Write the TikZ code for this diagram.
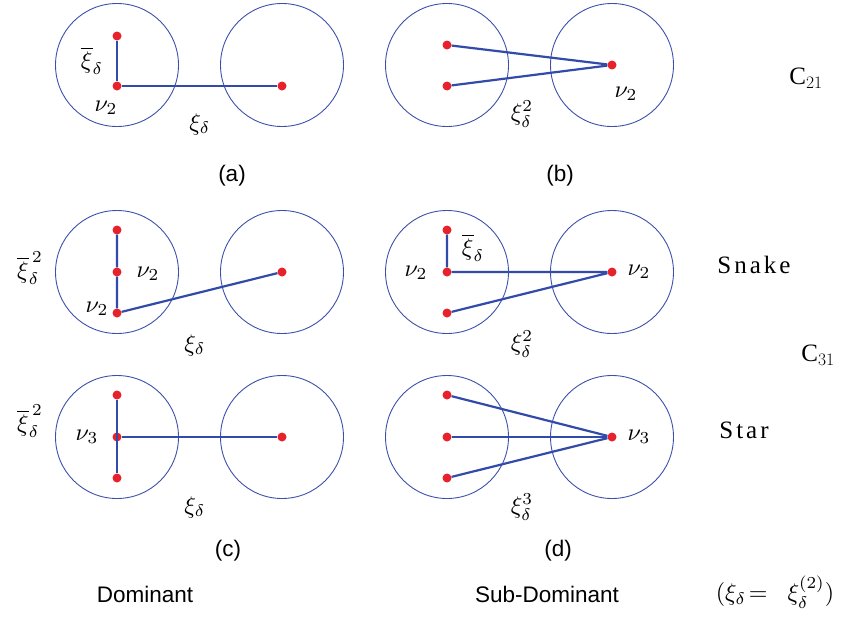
\documentclass[tikz,border=0pt]{standalone}
\usepackage{fontspec}
\newfontfamily\sff{Liberation Sans}
\newfontfamily\spaced[LetterSpace=12]{Liberation Serif}
\newcommand{\ml}[1]{\scalebox{2.4}{$#1$}}
\definecolor{ringblue}{RGB}{60,80,170}
\definecolor{linkblue}{RGB}{50,75,170}
\definecolor{dotred}{RGB}{230,35,45}
\begin{document}
\begin{tikzpicture}[x=1pt,y=-1pt,
  ring/.style={circle,draw=ringblue,line width=0.9pt,minimum size=123pt,inner sep=0pt},
  dot/.style={circle,fill=dotred,minimum size=9pt,inner sep=0pt},
  link/.style={draw=linkblue,line width=2.2pt},
  mlab/.style={inner sep=0pt},
  slab/.style={inner sep=0pt,font=\sff\fontsize{22.5}{26}\selectfont},
  tlab/.style={inner sep=0pt,font=\spaced\fontsize{25}{29}\selectfont}]
\useasboundingbox (0,0) rectangle (848,616);
% ---------- (a)
\node[ring] (ra1) at (117,65) {};
\node[ring] (ra2) at (282,65) {};
\node[dot] (a1) at (117,36) {};
\node[dot] (a2) at (117,86) {};
\node[dot] (a3) at (282,86) {};
\draw[link] (a1) -- (a2) -- (a3);
\node[mlab] (la1) at (92,61) {\ml{\overline{\xi}_\delta}};
\node[mlab] (la2) at (106,108) {\ml{\nu_2}};
\node[mlab] (la3) at (200,124) {\ml{\xi_\delta}};
\node[slab] (capa) at (232,176) {(a)};
% ---------- (b)
\node[ring] (rb1) at (447,65) {};
\node[ring] (rb2) at (612,65) {};
\node[dot] (b1) at (447,45) {};
\node[dot] (b2) at (447,86) {};
\node[dot] (b3) at (612,65) {};
\draw[link] (b1) -- (b3) -- (b2);
\node[mlab] (lb1) at (626,94) {\ml{\nu_2}};
\node[mlab] (lb2) at (522,114) {\ml{\xi_\delta^{2}}};
\node[slab] (capb) at (560,176) {(b)};
\node[tlab] (c21) at (806,78) {C$_{\mathrm{21}}$};
% ---------- row 2 left (snake dominant)
\node[ring] (rc1) at (117,272) {};
\node[ring] (rc2) at (282,272) {};
\node[dot] (c1) at (117,230) {};
\node[dot] (c2) at (117,272) {};
\node[dot] (c3) at (117,313) {};
\node[dot] (c4) at (282,272) {};
\draw[link] (c1) -- (c2) -- (c3) -- (c4);
\node[mlab] (lc1) at (30,268) {\ml{\overline{\xi}_\delta^{\,2}}};
\node[mlab] (lc2) at (148,274) {\ml{\nu_2}};
\node[mlab] (lc3) at (97,309) {\ml{\nu_2}};
\node[mlab] (lc4) at (195,345) {\ml{\xi_\delta}};
% ---------- row 2 right (snake sub-dominant)
\node[ring] (rd1) at (447,272) {};
\node[ring] (rd2) at (612,272) {};
\node[dot] (d1) at (447,230) {};
\node[dot] (d2) at (447,272) {};
\node[dot] (d3) at (447,313) {};
\node[dot] (d4) at (612,272) {};
\draw[link] (d1) -- (d2) -- (d4) -- (d3);
\node[mlab] (ld1) at (416,273) {\ml{\nu_2}};
\node[mlab] (ld2) at (473,248) {\ml{\overline{\xi}_\delta}};
\node[mlab] (ld3) at (639,272) {\ml{\nu_2}};
\node[mlab] (ld4) at (522,344) {\ml{\xi_\delta^{2}}};
\node[tlab] (snake) at (754,265) {Snake};
\node[tlab] (c31) at (818,355) {C$_{\mathrm{31}}$};
% ---------- row 3 left (star dominant)
\node[ring] (re1) at (117,437) {};
\node[ring] (re2) at (282,437) {};
\node[dot] (e1) at (117,395) {};
\node[dot] (e2) at (117,437) {};
\node[dot] (e3) at (117,478) {};
\node[dot] (e4) at (282,437) {};
\draw[link] (e1) -- (e3);
\draw[link] (e2) -- (e4);
\node[mlab] (le1) at (30,421) {\ml{\overline{\xi}_\delta^{\,2}}};
\node[mlab] (le2) at (87,437) {\ml{\nu_3}};
\node[mlab] (le3) at (195,507) {\ml{\xi_\delta}};
\node[slab] (capc) at (228,551) {(c)};
% ---------- row 3 right (star sub-dominant)
\node[ring] (rf1) at (447,437) {};
\node[ring] (rf2) at (612,437) {};
\node[dot] (f1) at (447,395) {};
\node[dot] (f2) at (447,437) {};
\node[dot] (f3) at (447,478) {};
\node[dot] (f4) at (612,437) {};
\draw[link] (f1) -- (f4) -- (f3);
\draw[link] (f2) -- (f4);
\node[mlab] (lf1) at (639,437) {\ml{\nu_3}};
\node[mlab] (lf2) at (522,507) {\ml{\xi_\delta^{3}}};
\node[tlab] (star) at (744,430) {Star};
\node[slab] (capd) at (558,551) {(d)};
% ---------- bottom
\node[slab] (dom) at (145,594) {Dominant};
\node[slab] (sub) at (547,594) {Sub-Dominant};
\node[mlab] (eq) at (775,592) {\ml{(\xi_\delta\!=\;\;\xi_\delta^{(2)})}};
\end{tikzpicture}
\end{document}
